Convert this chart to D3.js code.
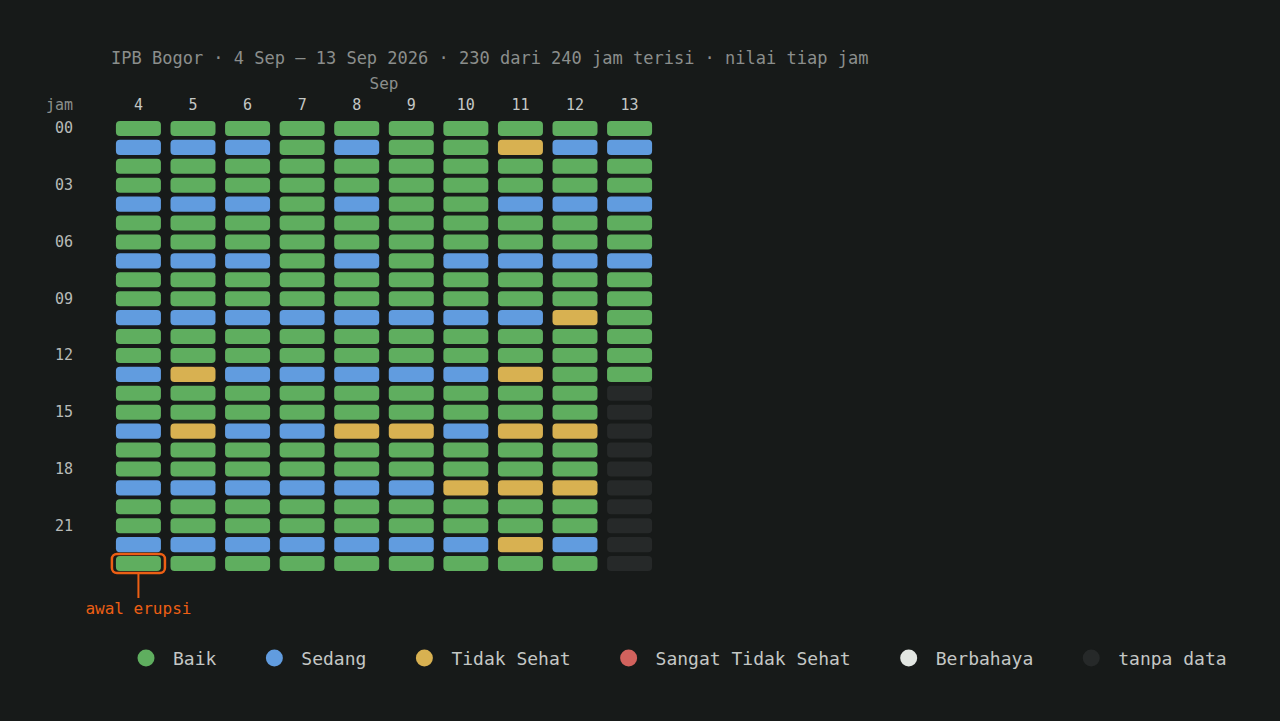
<!DOCTYPE html>
<html>
<head>
<meta charset="utf-8">
<script src="https://cdn.jsdelivr.net/npm/d3@7"></script>
<style>
  html, body { margin: 0; padding: 0; background: #171a19; }
  svg { display: block; }
  text { font-family: "DejaVu Sans Mono", monospace; }
</style>
</head>
<body>
<svg id="chart" width="1280" height="721"></svg>
<script>
// ---- data ----
const days = [4, 5, 6, 7, 8, 9, 10, 11, 12, 13];
const hours = d3.range(24);
const hourTicks = [0, 3, 6, 9, 12, 15, 18, 21];
const categories = ["Baik", "Sedang", "Tidak Sehat", "Sangat Tidak Sehat", "Berbahaya", "tanpa data"];
const categoryColors = ["#5fae5f", "#619cdf", "#d8b151", "#d2625d", "#e2e6e2", "#262929"];
// one string per hour (00..23); each char = a day 4..13
// G=Baik, B=Sedang, Y=Tidak Sehat, R=Sangat Tidak Sehat, W=Berbahaya, N=tanpa data
const hourRows = [
  "GGGGGGGGGG",
  "BBBGBGGYBB",
  "GGGGGGGGGG",
  "GGGGGGGGGG",
  "BBBGBGGBBB",
  "GGGGGGGGGG",
  "GGGGGGGGGG",
  "BBBGBGBBBB",
  "GGGGGGGGGG",
  "GGGGGGGGGG",
  "BBBBBBBBYG",
  "GGGGGGGGGG",
  "GGGGGGGGGG",
  "BYBBBBBYGG",
  "GGGGGGGGGN",
  "GGGGGGGGGN",
  "BYBBYYBYYN",
  "GGGGGGGGGN",
  "GGGGGGGGGN",
  "BBBBBBYYYN",
  "GGGGGGGGGN",
  "GGGGGGGGGN",
  "BBBBBBBYBN",
  "GGGGGGGGGN"
];
const codeToCategory = { G: "Baik", B: "Sedang", Y: "Tidak Sehat", R: "Sangat Tidak Sehat", W: "Berbahaya", N: "tanpa data" };
const titleText = "IPB Bogor · 4 Sep – 13 Sep 2026 · 230 dari 240 jam terisi · nilai tiap jam";
const monthLabel = "Sep";
const annotation = { day: 4, hour: 23, label: "awal erupsi" };

// ---- build cells ----
const cells = [];
hours.forEach((h, i) => {
  days.forEach((d, j) => {
    cells.push({ day: d, hour: h, cat: codeToCategory[hourRows[i][j]] });
  });
});

const svg = d3.select("#chart");
const color = d3.scaleOrdinal().domain(categories).range(categoryColors);

const x = d3.scaleBand().domain(days).range([111, 657]).paddingInner(0.175).paddingOuter(0.09);
const y = d3.scaleBand().domain(hours).range([119, 573]).paddingInner(0.2).paddingOuter(0.1);

// title
svg.append("text")
  .attr("x", 111).attr("y", 64)
  .attr("fill", "#8b8e8c").attr("font-size", 17)
  .text(titleText);

// month label
svg.append("text")
  .attr("x", (x.range()[0] + x.range()[1]) / 2 + 0).attr("y", 89)
  .attr("text-anchor", "middle")
  .attr("fill", "#8b8e8c").attr("font-size", 16)
  .text(monthLabel);

// day axis
const xAxis = d3.axisTop(x).tickSize(0).tickPadding(0);
const gx = svg.append("g").attr("transform", "translate(0,110)").call(xAxis);
gx.select(".domain").remove();
gx.selectAll("text").attr("fill", "#c4c7c5").attr("font-size", 15)
  .attr("font-family", "DejaVu Sans Mono, monospace");

// hour axis
const yAxis = d3.axisLeft(y).tickValues(hourTicks).tickSize(0).tickPadding(0)
  .tickFormat(h => String(h).padStart(2, "0"));
const gy = svg.append("g").attr("transform", "translate(73,0)").call(yAxis);
gy.select(".domain").remove();
gy.selectAll("text").attr("fill", "#b7bab8").attr("font-size", 15)
  .attr("font-family", "DejaVu Sans Mono, monospace");

// "jam" corner label
svg.append("text")
  .attr("x", 73).attr("y", 110)
  .attr("text-anchor", "end")
  .attr("fill", "#8b8e8c").attr("font-size", 15)
  .text("jam");

// cells
svg.append("g").selectAll("rect").data(cells).join("rect")
  .attr("x", d => x(d.day))
  .attr("y", d => y(d.hour))
  .attr("width", x.bandwidth())
  .attr("height", y.bandwidth())
  .attr("rx", 4).attr("ry", 4)
  .attr("fill", d => color(d.cat));

// annotation
const ax = x(annotation.day), ay = y(annotation.hour);
svg.append("rect")
  .attr("x", ax - 4).attr("y", ay - 2)
  .attr("width", x.bandwidth() + 8).attr("height", y.bandwidth() + 4)
  .attr("rx", 5).attr("ry", 5)
  .attr("fill", "none").attr("stroke", "#ec5f14").attr("stroke-width", 2.5);
const acx = ax + x.bandwidth() / 2;
svg.append("line")
  .attr("x1", acx).attr("x2", acx)
  .attr("y1", ay + y.bandwidth() + 2).attr("y2", 598)
  .attr("stroke", "#ec5f14").attr("stroke-width", 2);
svg.append("text")
  .attr("x", acx).attr("y", 614)
  .attr("text-anchor", "middle")
  .attr("fill", "#ec5f14").attr("font-size", 16)
  .text(annotation.label);

// legend
const lg = svg.append("g").attr("transform", "translate(146,658)");
let cx = 0;
categories.forEach((c, i) => {
  const g = lg.append("g").attr("transform", `translate(${cx},0)`);
  g.append("circle").attr("r", 8.5).attr("fill", categoryColors[i]);
  const t = g.append("text").attr("x", 27).attr("y", 6.5)
    .attr("fill", "#c4c7c5").attr("font-size", 18).text(c);
  cx += 27 + t.node().getComputedTextLength() + 58;
});
</script>
</body>
</html>
